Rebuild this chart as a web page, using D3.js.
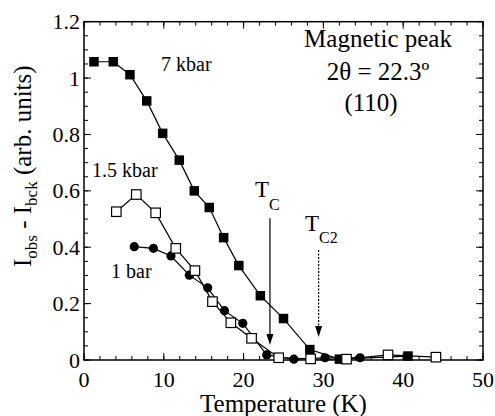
<!DOCTYPE html>
<html><head><meta charset="utf-8">
<script src="https://cdn.jsdelivr.net/npm/d3@7/dist/d3.min.js"></script>
<style>body{margin:0;background:#fff}</style>
</head><body>
<svg id="c" width="495" height="416"></svg>
<script>
// Data (Temperature K, intensity arb. units)
const temp1bar = [6.3, 8.7, 10.9, 13.2, 15.5, 17.6, 19.9, 22.9, 26.3, 30.2, 34.6];
const int1bar  = [0.402, 0.396, 0.369, 0.301, 0.256, 0.175, 0.130, 0.018, 0.003, 0.008, 0.008];
const temp15kbar = [4.05, 6.55, 8.98, 11.5, 13.9, 16.1, 18.4, 21.0, 24.4, 28.4, 32.9, 38.1, 44.1];
const int15kbar  = [0.526, 0.587, 0.522, 0.396, 0.317, 0.207, 0.132, 0.077, 0.008, 0.004, 0.003, 0.018, 0.010];
const temp7kbar = [1.25, 3.67, 5.76, 7.86, 9.86, 11.94, 13.82, 15.7, 17.5, 19.4, 22.1, 25.0, 28.3, 32.0, 40.6];
const int7kbar  = [1.058, 1.058, 1.012, 0.919, 0.804, 0.709, 0.600, 0.541, 0.434, 0.335, 0.228, 0.147, 0.037, 0.003, 0.014];
const xTicks = [0, 10, 20, 30, 40, 50];
const yTicks = [0, 0.2, 0.4, 0.6, 0.8, 1, 1.2];
const tcT = 23.3, tc2T = 29.4;

const svg = d3.select("#c");
function txt(sel){
  return sel.append("text").attr("font-family","Times New Roman, Liberation Serif, serif")
    .style("font-family","\"Times New Roman\", \"Liberation Serif\", Tinos, serif");
}
const m = {l:84, r:12, t:21.7, b:56};
const W = 495, H = 416;
const x = d3.scaleLinear().domain([0,50]).range([m.l, W-m.r]);
const y = d3.scaleLinear().domain([0,1.2]).range([H-m.b, m.t]);

// ticks (inside)
const g = svg.append("g");
const minorX = d3.range(0, 50.01, 2), minorY = d3.range(0, 1.2001, 0.05);
function tickLines(vals, isX, len){
  vals.forEach(v=>{
    if(isX){
      g.append("line").attr("x1",x(v)).attr("x2",x(v)).attr("y1",y(0)).attr("y2",y(0)-len).attr("stroke","#000").attr("stroke-width",1);
      g.append("line").attr("x1",x(v)).attr("x2",x(v)).attr("y1",y(1.2)).attr("y2",y(1.2)+len).attr("stroke","#000").attr("stroke-width",1);
    } else {
      g.append("line").attr("y1",y(v)).attr("y2",y(v)).attr("x1",x(0)).attr("x2",x(0)+len).attr("stroke","#000").attr("stroke-width",1);
      g.append("line").attr("y1",y(v)).attr("y2",y(v)).attr("x1",x(50)).attr("x2",x(50)-len).attr("stroke","#000").attr("stroke-width",1);
    }
  });
}
tickLines(minorX, true, 4); tickLines(xTicks, true, 7);
tickLines(minorY, false, 4); tickLines(yTicks, false, 7);

// frame
svg.append("rect").attr("x",x(0)).attr("y",y(1.2)).attr("width",x(50)-x(0)).attr("height",y(0)-y(1.2))
  .attr("fill","none").attr("stroke","#000").attr("stroke-width",1.5);

// tick labels
xTicks.forEach(d=>txt(svg).attr("x",x(d)).attr("y",y(0)+27).attr("text-anchor","middle").attr("font-size",22).text(d));
yTicks.forEach(d=>txt(svg).attr("x",x(0)-4).attr("y",y(d)+7.5).attr("text-anchor","end").attr("font-size",22).text(d));

// axis titles
txt(svg).attr("x",(x(0)+x(50))/2).attr("y",412).attr("text-anchor","middle").attr("font-size",25).text("Temperature (K)");
const yt = txt(svg).attr("transform","translate(31,267) rotate(-90)").attr("font-size",25).attr("text-anchor","start");
yt.append("tspan").text("I");
yt.append("tspan").attr("font-size",17).attr("dy",6).text("obs");
yt.append("tspan").attr("dy",-6).text(" - I");
yt.append("tspan").attr("font-size",17).attr("dy",6).text("bck");
yt.append("tspan").attr("dy",-6).text(" (arb. units)");

// series
const line = d3.line().x(d=>x(d[0])).y(d=>y(d[1]));
const s1 = temp1bar.map((t,i)=>[t,int1bar[i]]);
const s2 = temp15kbar.map((t,i)=>[t,int15kbar[i]]);
const s3 = temp7kbar.map((t,i)=>[t,int7kbar[i]]);
[s1,s3,s2].forEach(s=>svg.append("path").attr("d",line(s)).attr("fill","none").attr("stroke","#000").attr("stroke-width",1.2));
svg.selectAll(".c1").data(s1).enter().append("circle").attr("cx",d=>x(d[0])).attr("cy",d=>y(d[1])).attr("r",4.6).attr("fill","#000");
const sq = 9.5;
svg.selectAll(".s3").data(s3).enter().append("rect").attr("x",d=>x(d[0])-sq/2).attr("y",d=>y(d[1])-sq/2).attr("width",sq).attr("height",sq).attr("fill","#000");
svg.selectAll(".s2").data(s2).enter().append("rect").attr("x",d=>x(d[0])-sq/2).attr("y",d=>y(d[1])-sq/2).attr("width",sq).attr("height",sq).attr("fill","#fff").attr("stroke","#000").attr("stroke-width",1.2);

// series labels
txt(svg).attr("x",161).attr("y",71).attr("font-size",20).text("7 kbar");
txt(svg).attr("x",92).attr("y",177).attr("font-size",20).text("1.5 kbar");
txt(svg).attr("x",111).attr("y",278).attr("font-size",20).text("1 bar");

// annotation
txt(svg).attr("x",378).attr("y",47).attr("text-anchor","middle").attr("font-size",25).text("Magnetic peak");
txt(svg).attr("x",378).attr("y",80).attr("text-anchor","middle").attr("font-size",25).text("2θ = 22.3º");
txt(svg).attr("x",371).attr("y",111).attr("text-anchor","middle").attr("font-size",25).text("(110)");

// arrows
function arrow(t, v0, v1, dashed){
  const xx = x(t), ya = y(v0), yb = y(v1);
  svg.append("line").attr("x1",xx).attr("x2",xx).attr("y1",ya).attr("y2",yb-8).attr("stroke","#000").attr("stroke-width",1.2)
    .attr("stroke-dasharray", dashed ? "2,1.5" : null);
  svg.append("path").attr("d",`M${xx},${yb} L${xx-3.5},${yb-11} L${xx+3.5},${yb-11} Z`).attr("fill","#000");
}
arrow(tcT, 0.503, 0.053, false);
arrow(tc2T, 0.39, 0.082, true);
const tc = txt(svg).attr("x",255).attr("y",197).attr("font-size",23);
tc.append("tspan").text("T"); tc.append("tspan").attr("font-size",16).attr("dy",13).text("C");
const tc2 = txt(svg).attr("x",305).attr("y",231).attr("font-size",23);
tc2.append("tspan").text("T"); tc2.append("tspan").attr("font-size",16).attr("dy",12).text("C2");
</script>
</body></html>
